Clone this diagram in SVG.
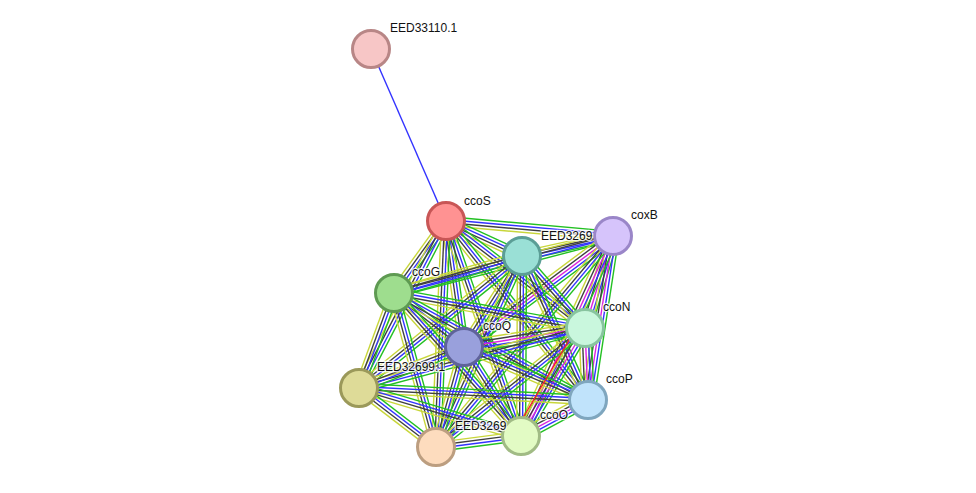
<svg xmlns="http://www.w3.org/2000/svg" xmlns:xlink="http://www.w3.org/1999/xlink" width="976" height="493" viewBox="0 0 976 493">
<style>
.n circle{stroke-width:3}
text{font-family:"Liberation Sans",Arial,sans-serif;font-size:12px;fill:#111;stroke:#fff;stroke-width:2.5px;stroke-opacity:.8;paint-order:stroke}
.b line{stroke-width:1.4;vector-effect:non-scaling-stroke}
</style>
<defs>
<g id="b" class="b">
<line x1="0" y1="-4.5" x2="1" y2="-4.5" stroke="#22c022"/>
<line x1="0" y1="-1.5" x2="1" y2="-1.5" stroke="#3333ff"/>
<line x1="0" y1="1.5" x2="1" y2="1.5" stroke="#404040"/>
<line x1="0" y1="4.5" x2="1" y2="4.5" stroke="#c8d63a"/>
</g>
<g id="m" class="b">
<line x1="0" y1="-6" x2="1" y2="-6" stroke="#22c022"/>
<line x1="0" y1="-3" x2="1" y2="-3" stroke="#3333ff"/>
<line x1="0" y1="0" x2="1" y2="0" stroke="#dd22dd"/>
<line x1="0" y1="3" x2="1" y2="3" stroke="#404040"/>
<line x1="0" y1="6" x2="1" y2="6" stroke="#c8d63a"/>
</g>
</defs>
<g id="edges">
<line x1="371" y1="49" x2="446" y2="221" stroke="#3333ff" stroke-width="1.4"/>
<use href="#b" transform="translate(446 221) rotate(5.1) scale(167.7 1)"/>
<use href="#b" transform="translate(446 221) rotate(24.7) scale(83.7 1)"/>
<use href="#b" transform="translate(446 221) rotate(125.8) scale(88.8 1)"/>
<use href="#b" transform="translate(446 221) rotate(37.6) scale(175.4 1)"/>
<use href="#b" transform="translate(446 221) rotate(81.9) scale(127.3 1)"/>
<use href="#b" transform="translate(446 221) rotate(117.5) scale(188.3 1)"/>
<use href="#b" transform="translate(446 221) rotate(51.6) scale(228.5 1)"/>
<use href="#b" transform="translate(446 221) rotate(70.8) scale(227.7 1)"/>
<use href="#b" transform="translate(446 221) rotate(92.5) scale(226.2 1)"/>
<use href="#b" transform="translate(613 236) rotate(167.6) scale(93.2 1)"/>
<use href="#b" transform="translate(613 236) rotate(165.4) scale(226.3 1)"/>
<use href="#m" transform="translate(613 236) rotate(106.9) scale(96.2 1)"/>
<use href="#m" transform="translate(613 236) rotate(143.3) scale(185.8 1)"/>
<use href="#m" transform="translate(613 236) rotate(98.7) scale(165.9 1)"/>
<use href="#m" transform="translate(613 236) rotate(114.7) scale(220.1 1)"/>
<use href="#b" transform="translate(613 236) rotate(130.0) scale(275.4 1)"/>
<use href="#b" transform="translate(522 256) rotate(163.9) scale(133.2 1)"/>
<use href="#b" transform="translate(522 256) rotate(48.8) scale(95.7 1)"/>
<use href="#b" transform="translate(522 256) rotate(122.5) scale(107.9 1)"/>
<use href="#b" transform="translate(522 256) rotate(141.0) scale(209.7 1)"/>
<use href="#b" transform="translate(522 256) rotate(65.4) scale(158.4 1)"/>
<use href="#b" transform="translate(522 256) rotate(90.3) scale(180 1)"/>
<use href="#b" transform="translate(522 256) rotate(114.2) scale(209.5 1)"/>
<use href="#b" transform="translate(394 293) rotate(10.4) scale(194.2 1)"/>
<use href="#b" transform="translate(394 293) rotate(37.6) scale(88.4 1)"/>
<use href="#b" transform="translate(394 293) rotate(110.2) scale(101.2 1)"/>
<use href="#b" transform="translate(394 293) rotate(28.9) scale(221.6 1)"/>
<use href="#b" transform="translate(394 293) rotate(48.4) scale(191.3 1)"/>
<use href="#b" transform="translate(394 293) rotate(74.7) scale(159.6 1)"/>
<use href="#m" transform="translate(585 328) rotate(171.1) scale(122.5 1)"/>
<use href="#b" transform="translate(585 328) rotate(165.1) scale(233.8 1)"/>
<use href="#m" transform="translate(585 328) rotate(87.6) scale(72.1 1)"/>
<use href="#m" transform="translate(585 328) rotate(120.6) scale(125.5 1)"/>
<use href="#b" transform="translate(585 328) rotate(141.4) scale(190.7 1)"/>
<use href="#b" transform="translate(464 347) rotate(158.7) scale(112.7 1)"/>
<use href="#b" transform="translate(464 347) rotate(23.1) scale(134.9 1)"/>
<use href="#b" transform="translate(464 347) rotate(57.4) scale(105.7 1)"/>
<use href="#b" transform="translate(464 347) rotate(105.6) scale(103.8 1)"/>
<use href="#b" transform="translate(359 388) rotate(3.0) scale(229.3 1)"/>
<use href="#b" transform="translate(359 388) rotate(16.5) scale(169 1)"/>
<use href="#b" transform="translate(359 388) rotate(37.5) scale(97 1)"/>
<use href="#m" transform="translate(588 400) rotate(151.7) scale(76.1 1)"/>
<use href="#b" transform="translate(521 436) rotate(172.6) scale(85.7 1)"/>
<line x1="585" y1="328" x2="521" y2="436" stroke="#ff2020" stroke-width="1.4" transform="translate(-7 -3)"/>
</g>
<g id="n-EED33110" class="n"><circle cx="371" cy="49" r="18.5" fill="#f7c6c6" stroke="#b88686"/></g>
<g id="n-ccoS" class="n"><circle cx="446" cy="221" r="18.5" fill="#ff9292" stroke="#c85656"/></g>
<g id="n-coxB" class="n"><circle cx="613" cy="236" r="18.5" fill="#d6c4fb" stroke="#9a86c8"/></g>
<g id="n-EED3269a" class="n"><circle cx="522" cy="256" r="18.5" fill="#9ae0d6" stroke="#5b9e96"/></g>
<g id="n-ccoG" class="n"><circle cx="394" cy="293" r="18.5" fill="#9edd8e" stroke="#5e9a52"/></g>
<g id="n-ccoN" class="n"><circle cx="585" cy="328" r="18.5" fill="#c9f7dd" stroke="#88c49f"/></g>
<g id="n-ccoQ" class="n"><circle cx="464" cy="347" r="18.5" fill="#99a0dc" stroke="#5f639a"/></g>
<g id="n-EED32699" class="n"><circle cx="359" cy="388" r="18.5" fill="#dedb98" stroke="#9b995a"/></g>
<g id="n-ccoP" class="n"><circle cx="588" cy="400" r="18.5" fill="#c0e3fb" stroke="#7fa6be"/></g>
<g id="n-ccoO" class="n"><circle cx="521" cy="436" r="18.5" fill="#e2fbc4" stroke="#a1bb85"/></g>
<g id="n-EED3269b" class="n"><circle cx="436" cy="447" r="18.5" fill="#fddcbe" stroke="#bc9e80"/></g>
<g id="labels">
<text x="390" y="32">EED33110.1</text>
<text x="464" y="205">ccoS</text>
<text x="631" y="219">coxB</text>
<text x="541" y="240">EED3269</text>
<text x="412" y="276">ccoG</text>
<text x="603" y="311">ccoN</text>
<text x="483" y="330">ccoQ</text>
<text x="377" y="371">EED32699.1</text>
<text x="606" y="383">ccoP</text>
<text x="540" y="419">ccoO</text>
<text x="455" y="430">EED3269</text>
</g>
</svg>
